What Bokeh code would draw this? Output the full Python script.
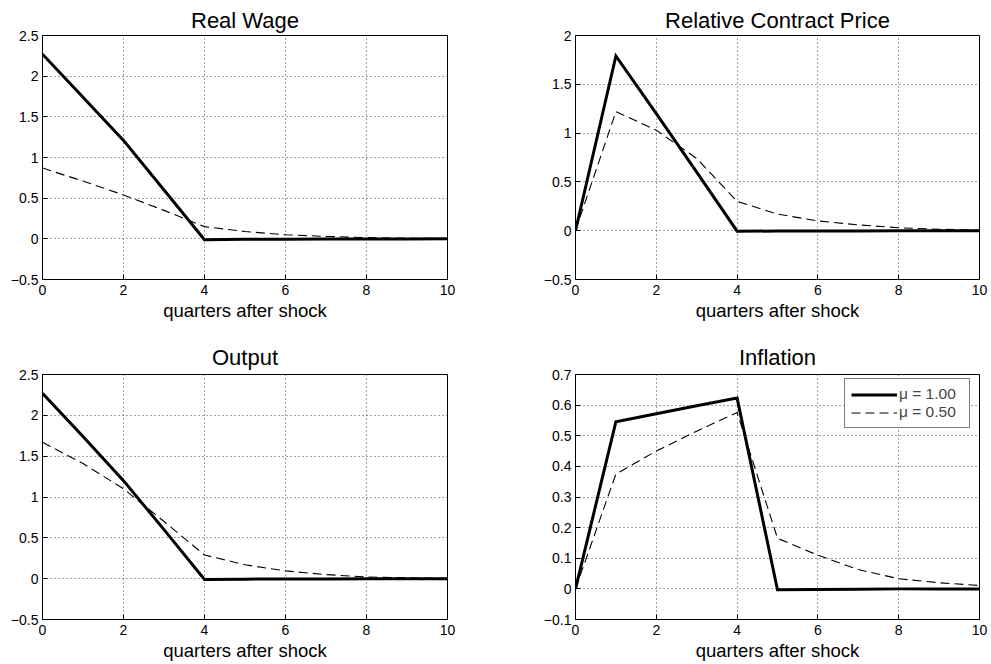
from bokeh.plotting import figure
from bokeh.layouts import column, row
from bokeh.models import FixedTicker, Legend, LegendItem, Range1d
from bokeh.embed import file_html
from bokeh.resources import INLINE

# ---------------- data ----------------
quarters = [0, 1, 2, 3, 4, 5, 6, 7, 8, 9, 10]
x_ticks = [0, 2, 4, 6, 8, 10]

wage_mu100 = [2.27, 1.74, 1.21, 0.60, -0.01, -0.006, -0.004, -0.003, -0.002, -0.001, 0.0]
wage_mu050 = [0.87, 0.71, 0.54, 0.35, 0.15, 0.09, 0.05, 0.03, 0.015, 0.008, 0.004]

price_mu100 = [0.0, 1.79, 1.20, 0.60, -0.005, -0.004, -0.003, -0.002, -0.001, 0.0, 0.0]
price_mu050 = [0.0, 1.22, 1.03, 0.74, 0.30, 0.17, 0.10, 0.06, 0.03, 0.015, 0.005]

output_mu100 = [2.27, 1.74, 1.20, 0.60, -0.01, -0.006, -0.004, -0.003, -0.002, -0.001, 0.0]
output_mu050 = [1.67, 1.41, 1.10, 0.70, 0.29, 0.17, 0.095, 0.05, 0.02, 0.01, 0.003]

infl_mu100 = [0.0, 0.546, 0.572, 0.598, 0.623, -0.003, -0.002, -0.001, 0.0, 0.0, 0.0]
infl_mu050 = [0.0, 0.375, 0.45, 0.515, 0.576, 0.165, 0.11, 0.063, 0.033, 0.02, 0.011]

ticks_half = [-0.5, 0, 0.5, 1, 1.5, 2, 2.5]
ticks_price = [-0.5, 0, 0.5, 1, 1.5, 2]
ticks_infl = [-0.1, 0, 0.1, 0.2, 0.3, 0.4, 0.5, 0.6, 0.7]

titles = ["Real Wage", "Relative Contract Price", "Output", "Inflation"]
x_label = "quarters after shock"
legend_labels = ["\u03bc = 1.00", "\u03bc = 0.50"]

FONT = "Liberation Sans"


def fmt(v):
    return ("%g" % v).replace("-", "\u2212")


def panel(title, yr, yticks, solid, dashed, W, H, ml, mr, mt, mb,
          title_standoff, legend=False):
    p = figure(width=W, height=H, output_backend="svg", toolbar_location=None,
               x_range=Range1d(0, 10), y_range=Range1d(*yr),
               min_border_left=ml, min_border_right=mr,
               min_border_top=mt, min_border_bottom=mb)
    p.background_fill_color = "white"
    p.border_fill_color = "white"
    p.outline_line_color = "black"
    p.outline_line_width = 1
    p.outline_line_alpha = 1.0

    p.title.text = title
    p.title.align = "center"
    p.title.text_font = FONT
    p.title.text_font_size = "22px"
    p.title.text_font_style = "normal"
    p.title.text_color = "black"
    p.title.standoff = title_standoff
    p.title.offset = 0

    p.xaxis.ticker = FixedTicker(ticks=x_ticks)
    p.yaxis.ticker = FixedTicker(ticks=yticks)
    p.yaxis.major_label_overrides = {t: fmt(t) for t in yticks}
    p.xaxis.major_label_overrides = {t: fmt(t) for t in x_ticks}
    p.xaxis.axis_label = x_label
    p.xaxis.axis_label_text_font = FONT
    p.xaxis.axis_label_text_font_size = "18.5px"
    p.xaxis.axis_label_text_font_style = "normal"
    p.xaxis.axis_label_text_color = "black"
    p.xaxis.axis_label_standoff = 2
    for ax in (p.xaxis, p.yaxis):
        ax.major_label_text_font = FONT
        ax.major_label_text_font_size = "14px"
        ax.major_label_text_color = "black"
        ax.axis_line_color = "black"
        ax.major_tick_in = 5
        ax.major_tick_out = 0
        ax.major_tick_line_color = "black"
        ax.minor_tick_line_color = None
    p.xaxis.major_label_standoff = 5
    p.yaxis.major_label_standoff = 4

    for g in (p.xgrid, p.ygrid):
        g.grid_line_color = "#444444"
        g.grid_line_dash = "1 3"
        g.grid_line_width = 1

    r1 = p.line(quarters, solid, line_color="black", line_width=3, line_join="miter")
    r2 = p.line(quarters, dashed, line_color="black", line_width=1.1, line_dash="9 5")

    if legend:
        lg = Legend(items=[LegendItem(label=legend_labels[0], renderers=[r1]),
                           LegendItem(label=legend_labels[1], renderers=[r2])],
                    location=(269, 191))
        lg.label_text_font = FONT
        lg.label_text_font_size = "15.5px"
        lg.glyph_width = 46
        lg.glyph_height = 17
        lg.label_height = 17
        lg.label_width = 64
        lg.label_standoff = 2
        lg.spacing = 0
        lg.padding = 6
        lg.margin = 0
        lg.border_line_color = "black"
        lg.border_line_width = 1
        lg.background_fill_alpha = 1
        p.add_layout(lg)
    return p


p1 = panel(titles[0], (-0.5, 2.5), ticks_half, wage_mu100, wage_mu050,
           477, 335, 42, 30, 35, 56, 6)
p2 = panel(titles[1], (-0.5, 2.0), ticks_price, price_mu100, price_mu050,
           512, 335, 98, 10, 35, 56, 6)
p3 = panel(titles[2], (-0.5, 2.5), ticks_half, output_mu100, output_mu050,
           477, 328, 42, 30, 39, 44, 9)
p4 = panel(titles[3], (-0.1, 0.7), ticks_infl, infl_mu100, infl_mu050,
           512, 328, 98, 10, 39, 44, 9, legend=True)

layout = column(row(p1, p2), row(p3, p4))
open("out.html", "w").write(file_html(layout, INLINE))
